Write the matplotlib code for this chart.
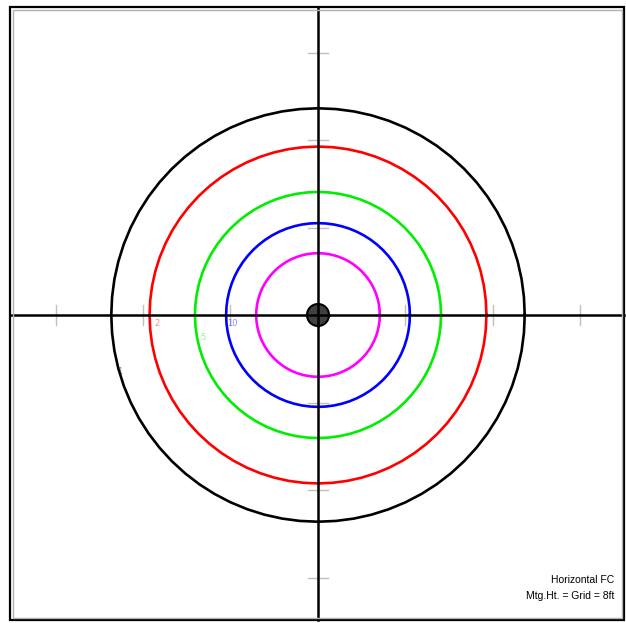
import numpy as np
import matplotlib.pyplot as plt
from matplotlib.patches import Circle, Rectangle

# isofootcandle contours (radius in ft), mounting height = grid = 8 ft
levels = ["1", "2", "5", "10", "20"]
radii = [18.9, 15.4, 11.25, 8.4, 5.65]
colors = ["black", "red", "#00ee00", "blue", "#ff00ff"]
grid_ticks = [-24, -16, -8, 8, 16, 24]

px = 8 / 87.5  # feet per pixel

fig = plt.figure(figsize=(6.26, 6.23), dpi=100)
ax = fig.add_axes([0, 0, 1, 1])
ax.set_xlim(-318 * px, 308 * px)
ax.set_ylim(-308 * px, 315 * px)
ax.set_aspect("equal")
ax.axis("off")

# frame (double line)
x0, x1 = -308 * px, 306 * px
y0, y1 = -305 * px, 308 * px
ax.add_patch(Rectangle((x0, y0), x1 - x0, y1 - y0, fill=False, ec="black", lw=1.6, zorder=5))
ax.add_patch(Rectangle((x0 + 2.5 * px, y0 + 2.5 * px), x1 - x0 - 5 * px, y1 - y0 - 5 * px,
                       fill=False, ec="#b0b0b0", lw=1.0, zorder=5))

# grid ticks
tl = 10 * px
for t in grid_ticks:
    ax.plot([t, t], [-tl, tl], color="#c0c0c0", lw=1.0, zorder=1)
    ax.plot([-tl, tl], [t, t], color="#c0c0c0", lw=1.0, zorder=1)

# axes through fixture
ax.plot([x0, x1], [0, 0], color="black", lw=1.8, zorder=3)
ax.plot([0, 0], [y0, y1], color="black", lw=1.8, zorder=3)

# contours, slightly polygonal like the original
th = np.linspace(0, 2 * np.pi, 73)
for r, c in zip(radii, colors):
    ax.plot(r * np.cos(th), r * np.sin(th), color=c, lw=1.9, zorder=2)

# faint level labels
lab_pos = [(-198 * px, -56 * px), (-161 * px, -8 * px), (-115 * px, -23 * px), (-86 * px, -8 * px)]
for (lx, ly), t, c in zip(lab_pos, levels, colors):
    ax.text(lx, ly, t, color=c, alpha=0.45, fontsize=6, ha="center", va="center", zorder=4)

# fixture
ax.add_patch(Circle((0, 0), 11 * px, fc="#404040", ec="black", lw=1.5, zorder=4))
ax.plot([-11 * px, 11 * px], [0, 0], color="black", lw=1.8, zorder=4)
ax.plot([0, 0], [-11 * px, 11 * px], color="black", lw=1.8, zorder=4)

ax.text(296 * px, -265 * px, "Horizontal FC", fontsize=7.5, family="Liberation Sans",
        ha="right", va="center", zorder=6)
ax.text(296 * px, -281 * px, "Mtg.Ht. = Grid = 8ft", fontsize=7.5, family="Liberation Sans",
        ha="right", va="center", zorder=6)

plt.savefig("out.png", dpi=100)
